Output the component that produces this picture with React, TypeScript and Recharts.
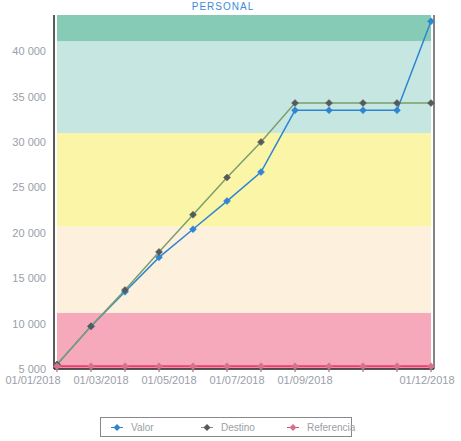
import React from 'react';
import {
  ComposedChart,
  Line,
  XAxis,
  YAxis,
  ReferenceArea,
} from 'recharts';

const months = [
  '01/01/2018', '01/02/2018', '01/03/2018', '01/04/2018', '01/05/2018', '01/06/2018',
  '01/07/2018', '01/08/2018', '01/09/2018', '01/10/2018', '01/11/2018', '01/12/2018',
];
const shownLabels = ['01/01/2018', '01/03/2018', '01/05/2018', '01/07/2018', '01/09/2018', '01/12/2018'];

const valor = [5500, 9700, 13500, 17300, 20400, 23500, 26700, 33500, 33500, 33500, 33500, 43300];
const destino = [5500, 9700, 13700, 17900, 22000, 26100, 30000, 34300, 34300, 34300, 34300, 34300];
const referencia = [5300, 5300, 5300, 5300, 5300, 5300, 5300, 5300, 5300, 5300, 5300, 5300];

const yTicks = [5000, 10000, 15000, 20000, 25000, 30000, 35000, 40000];
const yDomain = [5000, 44000];

// colour bands behind the series, low to high
const bandFrom = [5000, 11200, 20700, 31000, 41100];
const bandTo = [11200, 20700, 31000, 41100, 44000];
const bandColors = ['#f6a9bb', '#fdf0dc', '#fbf5a8', '#c6e7e1', '#86cbb6'];

const series = [
  { key: 'valor', name: 'Valor', stroke: '#2f84d4', fill: '#2f84d4', width: 1.5 },
  { key: 'destino', name: 'Destino', stroke: '#7aa06c', fill: '#555b5a', width: 1.5 },
  { key: 'referencia', name: 'Referencia', stroke: '#e6406b', fill: '#d9708a', width: 2 },
];

const data = months.map((m, i) => ({
  name: m,
  valor: valor[i],
  destino: destino[i],
  referencia: referencia[i],
}));

const fmt = (v: number) => v.toLocaleString('fr-FR').replace(/\u202f|\u00a0/g, ' ');

const Diamond = (color: string) => (props: any) => {
  const { cx, cy } = props;
  if (cx == null || cy == null) return null;
  const r = 3.5;
  return (
    <polygon
      points={`${cx},${cy - r} ${cx + r},${cy} ${cx},${cy + r} ${cx - r},${cy}`}
      fill={color}
      stroke={color}
      strokeWidth={0.5}
    />
  );
};

// labels sit left of their tick, except the last one
const DateTick = (props: any) => {
  const { x, y, payload } = props;
  const v = payload.value as string;
  if (!shownLabels.includes(v)) return null;
  const last = v === months[months.length - 1];
  return (
    <text x={x} y={y} dx={last ? -4 : -24} dy={10} textAnchor="middle" fontSize={11} fill="#9aa0a8">
      {v}
    </text>
  );
};

export default function App() {
  return (
    <div style={{ position: 'absolute', top: 0, left: 0, width: 461, height: 441, background: '#fff', fontFamily: 'Arial, "Liberation Sans", sans-serif', overflow: 'hidden' }}>
      <ComposedChart width={461} height={395} data={data} margin={{ top: 15, right: 26, left: 0, bottom: 6 }}>
        {bandFrom.map((from, i) => (
          <ReferenceArea key={i} y1={from} y2={bandTo[i]} fill={bandColors[i]} fillOpacity={1} stroke="none" ifOverflow="hidden" />
        ))}
        <XAxis
          dataKey="name"
          interval={0}
          height={20}
          padding={{ left: 3, right: 3 }}
          tick={<DateTick />}
          tickSize={3}
          tickLine={{ stroke: '#666' }}
          axisLine={{ stroke: '#222', strokeWidth: 1.5 }}
        />
        <YAxis
          domain={yDomain}
          ticks={yTicks}
          width={54}
          tickFormatter={fmt}
          tick={{ fill: '#9aa0a8', fontSize: 11 }}
          tickLine={false}
          axisLine={{ stroke: '#222', strokeWidth: 1.5 }}
        />
        <YAxis
          yAxisId="right"
          orientation="right"
          domain={yDomain}
          width={1}
          tick={false}
          tickLine={false}
          axisLine={{ stroke: '#333', strokeWidth: 1.2 }}
        />
        {series.map((s) => (
          <Line
            key={s.key}
            type="linear"
            dataKey={s.key}
            name={s.name}
            stroke={s.stroke}
            strokeWidth={s.width}
            dot={Diamond(s.fill)}
            activeDot={false}
            isAnimationActive={false}
          />
        ))}
      </ComposedChart>
      <div style={{ position: 'absolute', zIndex: 2, top: 1, left: 172, width: 102, textAlign: 'center', fontSize: 10, lineHeight: '12px', color: '#3a8ad8', letterSpacing: 1 }}>
        PERSONAL
      </div>
      <div style={{ position: 'absolute', left: 100, top: 417, width: 252, height: 20, border: '1px solid #888', boxSizing: 'border-box', display: 'flex', alignItems: 'center', fontSize: 10, color: '#9aa0a6', whiteSpace: 'nowrap' }}>
        {series.map((s, i) => (
          <div key={s.key} style={{ display: 'flex', alignItems: 'center', flex: 'none', width: i === 0 ? 90 : i === 1 ? 86 : 74, paddingLeft: 8, boxSizing: 'border-box' }}>
            <svg width={16} height={9} style={{ marginRight: 6, flex: 'none' }}>
              <line x1={2} y1={4.5} x2={14} y2={4.5} stroke={s.stroke} strokeWidth={1} />
              <polygon points="8,1 11.5,4.5 8,8 4.5,4.5" fill={s.fill} />
            </svg>
            <span>{s.name}</span>
          </div>
        ))}
      </div>
    </div>
  );
}
